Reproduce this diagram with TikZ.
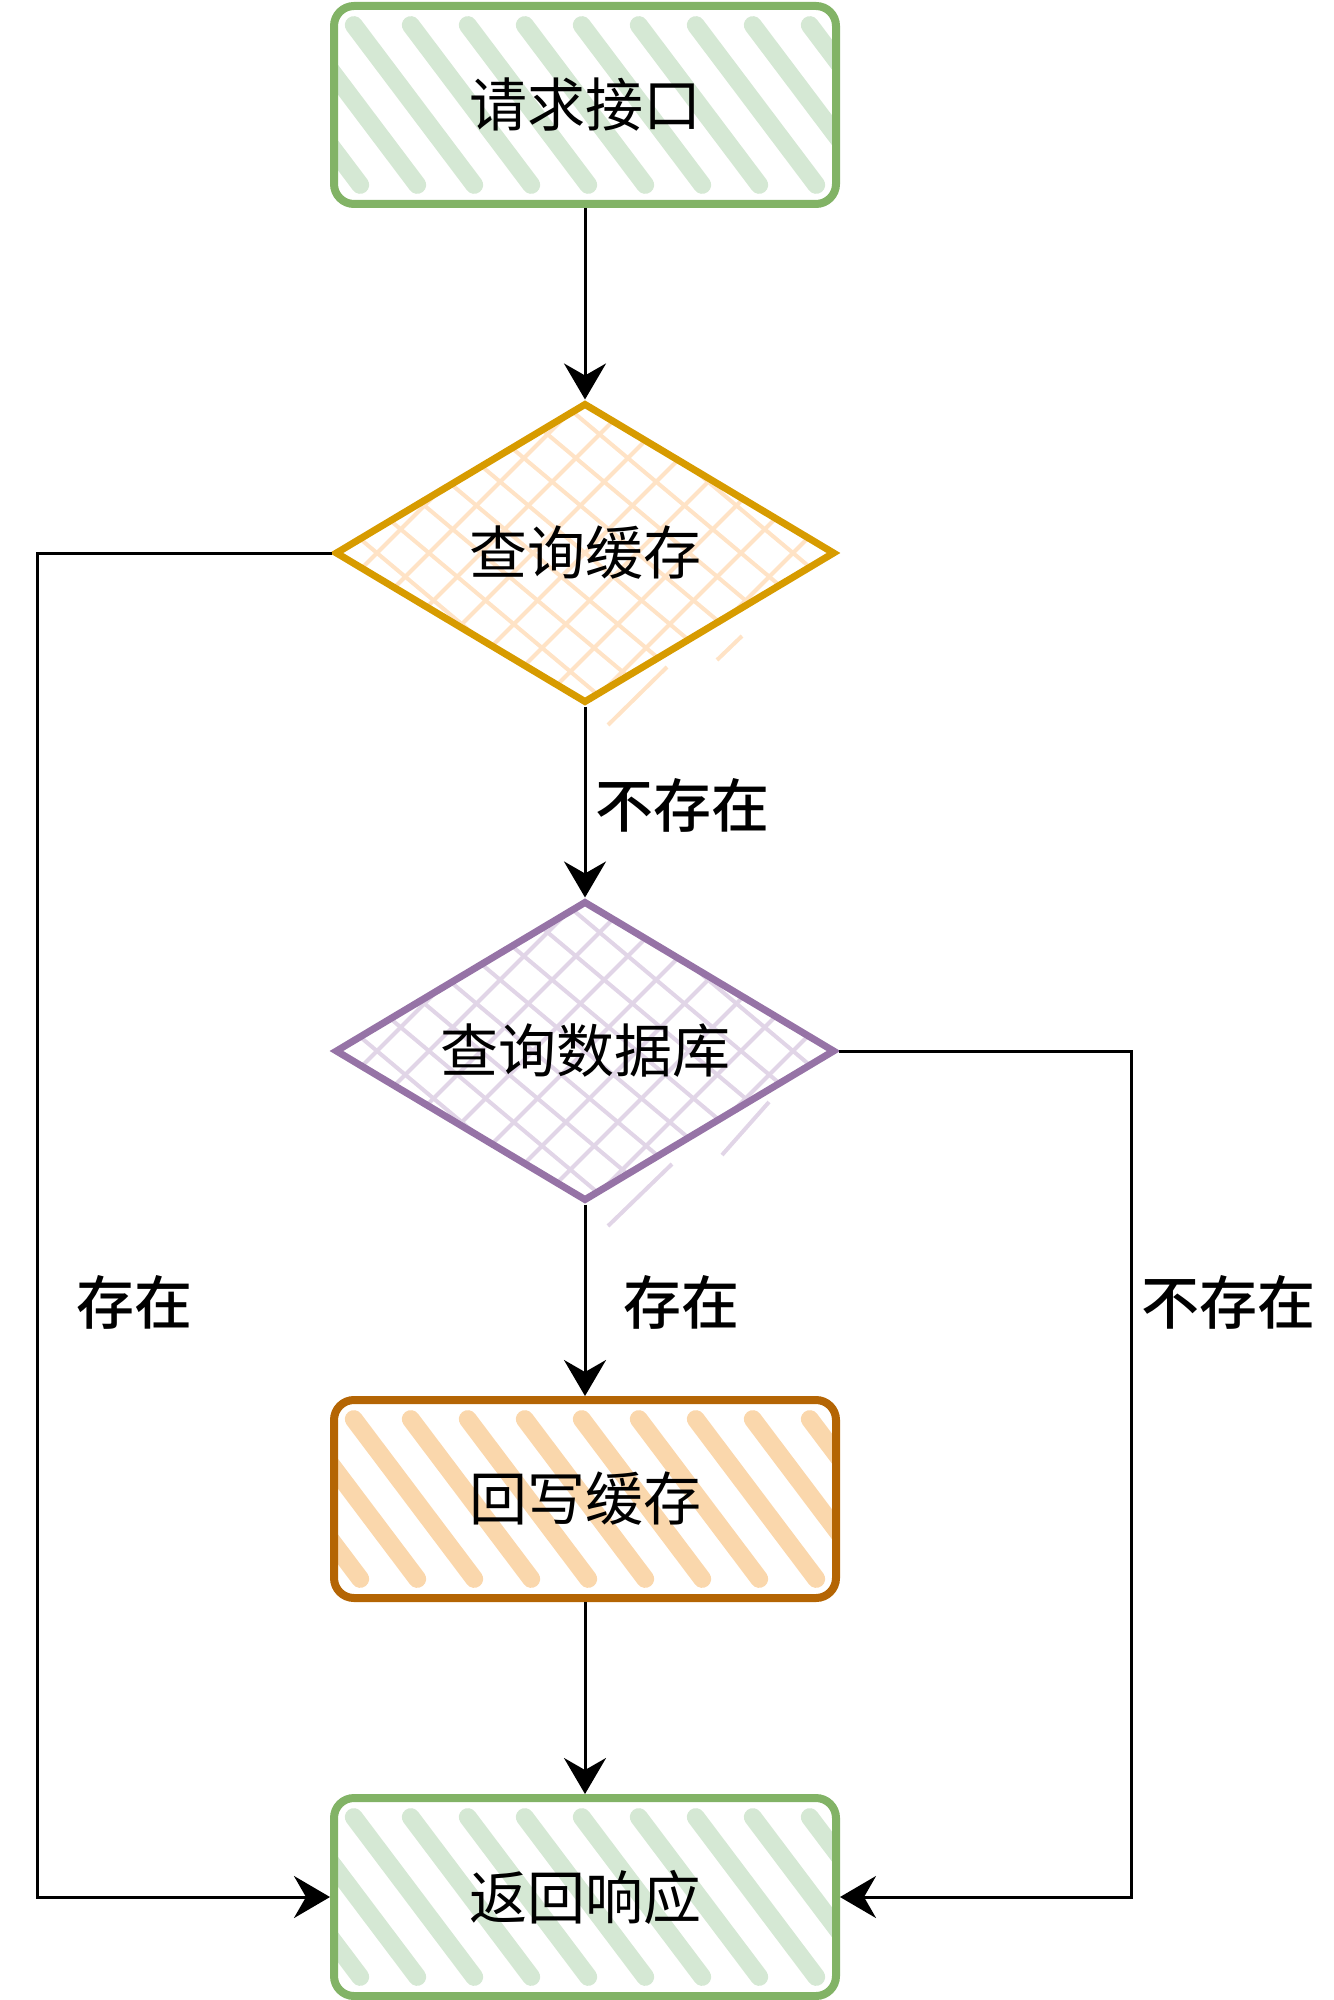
\documentclass[tikz,border=0pt]{standalone}
\usepackage{fontspec}
\newfontfamily\cjk{Noto Sans CJK SC}
\newfontfamily\cjkl{Noto Sans CJK SC Medium}
\usetikzlibrary{shapes.geometric,arrows.meta,calc}
\definecolor{gfill}{HTML}{D5E8D4}
\definecolor{gline}{HTML}{82B366}
\definecolor{ofill}{HTML}{FAD7AC}
\definecolor{oline}{HTML}{B46504}
\definecolor{yfill}{HTML}{FFE3C6}
\definecolor{yline}{HTML}{D79B00}
\definecolor{pfill}{HTML}{E1D5E7}
\definecolor{pline}{HTML}{9673A6}
\begin{document}
\begin{tikzpicture}[x=0.5pt,y=-0.5pt,
 txt/.style={font=\cjk\fontsize{29pt}{35pt}\selectfont, text=black},
 lbl/.style={font=\cjkl\fontsize{29pt}{35pt}\selectfont, text=black, inner sep=0pt},
 hbox/.style 2 args={txt, rectangle, rounded corners=10pt, draw=#1, line width=4pt,
   minimum width=251pt, minimum height=99pt, inner sep=0pt,
   path picture={\foreach \k in {-8,...,8}{\draw[#2, line width=9pt, line cap=round]
     ([xshift=\k*28.5pt]path picture bounding box.center) ++(-53:50pt) -- ++(127:100pt);}}},
 hdia/.style 2 args={txt, diamond, aspect=1.6667, draw=#1, line width=3.5pt,
   minimum width=250pt, minimum height=150pt, inner sep=0pt,
   path picture={\foreach \k in {-9,...,9}{
     \draw[#2, line width=2pt] ([xshift=\k*26pt]path picture bounding box.center) ++(45:160pt) -- ++(225:320pt);
     \draw[#2, line width=2pt] ([xshift=\k*26pt]path picture bounding box.center) ++(-40:160pt) -- ++(140:320pt);}}},
 stray/.style={line width=2pt},
 arr/.style={draw=black, line width=1.5pt, -{Stealth[length=18pt,width=21pt,inset=6pt]}},
]
\useasboundingbox (0,0) rectangle (1333,2000);

\node[hbox={gline}{gfill}] (req) at (585,105) {请求接口};
\node[hdia={yline}{yfill}] (qc) at (585,553) {查询缓存};
\node[hdia={pline}{pfill}] (qdb) at (585,1051) {查询数据库};
\node[hbox={oline}{ofill}] (wb) at (585,1499) {回写缓存};
\node[hbox={gline}{gfill}] (resp) at (585,1897) {返回响应};

\draw[stray, yfill] (608,725) -- (667,667);
\draw[stray, yfill] (717,660) -- (742,636);
\draw[stray, pfill] (608,1226) -- (672,1164);
\draw[stray, pfill] (722,1155) -- (769,1102);

\coordinate (lc) at (37,1200);
\coordinate (rc) at (1131,1400);

\draw[arr] (req) -- (qc);
\draw[arr] (qc) -- (qdb);
\draw[arr] (qdb) -- (wb);
\draw[arr] (wb) -- (resp);
\draw[arr] (qc.west) -| (lc) |- (resp.west);
\draw[arr] (qdb.east) -| (rc) |- (resp.east);

\node[lbl] (l1) at (682,805) {不存在};
\node[lbl] (l2) at (134,1302) {存在};
\node[lbl] (l3) at (681,1302) {存在};
\node[lbl] (l4) at (1228,1302) {不存在};
\end{tikzpicture}
\end{document}
